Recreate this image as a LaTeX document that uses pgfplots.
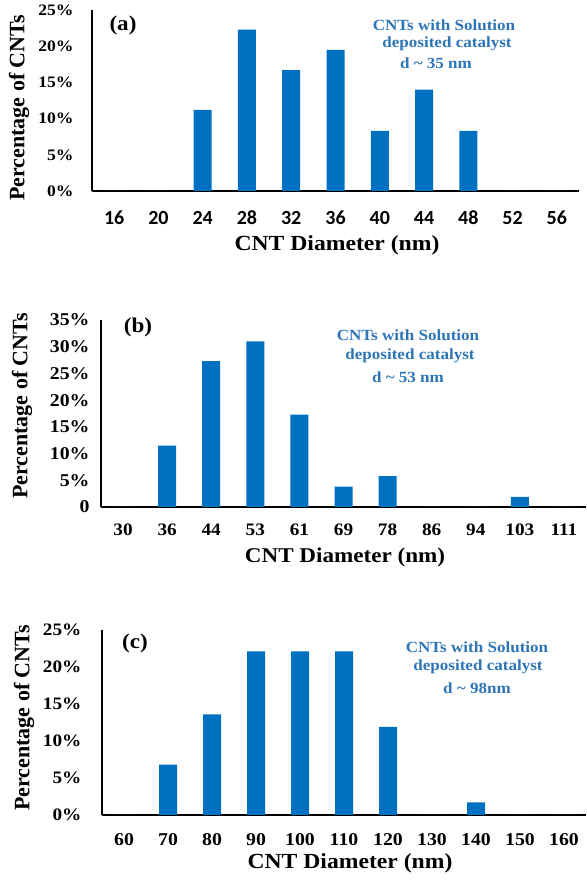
\documentclass[border=0pt]{standalone}
\usepackage{fontspec}
\setmainfont{Liberation Serif}[FakeStretch=1.1]
\newfontfamily\serifw{Liberation Serif}[FakeStretch=1.1]
\newfontfamily\plainserif{Liberation Serif}
\newfontfamily\carlito{Carlito}
\usepackage{pgfplots}
\pgfplotsset{compat=1.18}
\definecolor{barblue}{RGB}{0,112,192}
\definecolor{txtblue}{RGB}{46,117,182}
\newcommand{\fs}[1]{\fontsize{#1}{#1}\selectfont}
\pgfplotsset{
  panel/.style={
    scale only axis,
    anchor=south west,
    axis x line=bottom, axis y line=left,
    axis line style={-, line width=1.4pt, black},
    ybar, bar width=18pt,
    xmin=-0.5, xmax=10.5,
    xtick={0,...,10},
    ymin=0,
    major tick length=0pt,
    clip=false,
    enlargelimits=false,
  }
}
\begin{document}
\begin{tikzpicture}
\useasboundingbox (0,0) rectangle (586pt,880pt);
% ---------- (a) ----------
\begin{axis}[panel, at={(92pt,689pt)}, width=487pt, height=181pt,
  ymax=25, ytick={0,5,10,15,20,25},
  yticklabels={0\%,5\%,10\%,15\%,20\%,25\%},
  xticklabels={16,20,24,28,32,36,40,44,48,52,56},
  xticklabel style={font=\carlito\bfseries\fs{20}, anchor=center, yshift=-27pt},
  yticklabel style={font=\serifw\bfseries\fs{16}, anchor=east, xshift=-15pt}]
\addplot[fill=barblue, draw=none] coordinates {
 (0,0) (1,0) (2,11.2) (3,22.3) (4,16.7) (5,19.5) (6,8.3) (7,14.0) (8,8.3) (9,0) (10,0)};
\end{axis}
% ---------- (b) ----------
\begin{axis}[panel, at={(101pt,373pt)}, width=485pt, height=187pt,
  ymax=35, ytick={0,5,10,15,20,25,30,35},
  yticklabels={0,5\%,10\%,15\%,20\%,25\%,30\%,35\%},
  xticklabels={30,36,44,53,61,69,78,86,94,103,111},
  xticklabel style={font=\serifw\bfseries\fs{17.5}, anchor=center, yshift=-23pt},
  yticklabel style={font=\serifw\bfseries\fs{18}, anchor=east, xshift=-8pt}]
\addplot[fill=barblue, draw=none] coordinates {
 (0,0) (1,11.5) (2,27.3) (3,31.0) (4,17.3) (5,3.8) (6,5.8) (7,0) (8,0) (9,1.9) (10,0)};
\end{axis}
% ---------- (c) ----------
\begin{axis}[panel, at={(102pt,65pt)}, width=484pt, height=185pt,
  ymax=25, ytick={0,5,10,15,20,25},
  yticklabels={0\%,5\%,10\%,15\%,20\%,25\%},
  xticklabels={60,70,80,90,100,110,120,130,140,150,160},
  xticklabel style={font=\serifw\bfseries\fs{18}, anchor=center, yshift=-25pt},
  yticklabel style={font=\serifw\bfseries\fs{17.5}, anchor=east, xshift=-17pt}]
\addplot[fill=barblue, draw=none] coordinates {
 (0,0) (1,6.8) (2,13.6) (3,22.1) (4,22.1) (5,22.1) (6,11.9) (7,0) (8,1.7) (9,0) (10,0)};
\end{axis}
% ---------- texts ----------
\node[font=\serifw\bfseries\fs{21.5}] at (337pt,635pt) {CNT Diameter (nm)};
\node[font=\serifw\bfseries\fs{21}] at (345pt,323pt) {CNT Diameter (nm)};
\node[font=\serifw\bfseries\fs{21.5}] at (350pt,17pt) {CNT Diameter (nm)};
\node[font=\plainserif\bfseries\fs{22}, rotate=90] at (19pt,772pt) {Percentage of CNTs};
\node[font=\plainserif\bfseries\fs{22}, rotate=90] at (22pt,474pt) {Percentage of CNTs};
\node[font=\plainserif\bfseries\fs{22}, rotate=90] at (24pt,162pt) {Percentage of CNTs};
\node[font=\serifw\bfseries\fs{21}] at (123pt,855pt) {(a)};
\node[font=\serifw\bfseries\fs{21}] at (138pt,553pt) {(b)};
\node[font=\serifw\bfseries\fs{21}] at (135pt,237pt) {(c)};
\begin{scope}[every node/.style={text=txtblue, font=\serifw\bfseries\fs{15.5}}]
\node at (444pt,855pt) {CNTs with Solution};
\node at (447pt,836pt) {deposited catalyst};
\node at (436pt,817pt) {d \textasciitilde{} 35 nm};
\node at (408pt,545pt) {CNTs with Solution};
\node at (410pt,524pt) {deposited catalyst};
\node at (408pt,503pt) {d \textasciitilde{} 53 nm};
\node at (477pt,233pt) {CNTs with Solution};
\node at (478pt,213pt) {deposited catalyst};
\node at (477pt,192pt) {d \textasciitilde{} 98nm};
\end{scope}
\end{tikzpicture}
\end{document}
